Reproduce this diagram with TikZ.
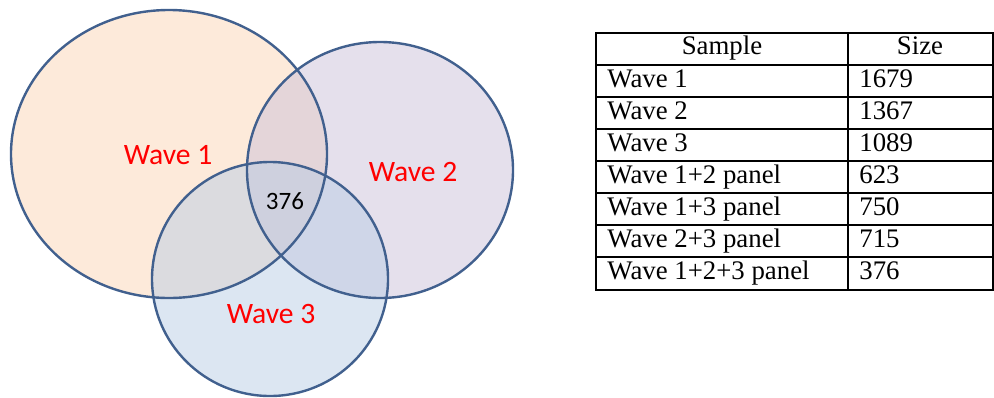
\documentclass[tikz,border=0pt]{standalone}
\usepackage{fontspec}
\setmainfont{Liberation Serif}
\newfontfamily\calfont{Carlito}
\usepackage{xcolor}
\usepackage{tikz}
\definecolor{VennLine}{HTML}{41608E}
\definecolor{WaveOne}{HTML}{FBD5B5}
\definecolor{WaveTwo}{HTML}{CCC1DA}
\definecolor{WaveThree}{HTML}{B9CDE5}

\tikzset{
  wavelab/.style={text=red,font=\calfont\fontsize{14.8}{16}\selectfont,inner sep=0pt},
  cell/.style={anchor=base west,font=\fontsize{13.4}{15}\selectfont,inner sep=0pt},
  headcell/.style={anchor=base,font=\fontsize{13.4}{15}\selectfont,inner sep=0pt},
}

\begin{document}
\begin{tikzpicture}[x=0.5pt,y=-0.5pt]
\useasboundingbox (0,0) rectangle (994,397);
% venn fills
\fill[WaveOne,fill opacity=0.5] (169,154) ellipse [x radius=158,y radius=144];
\fill[WaveTwo,fill opacity=0.5] (380,170) ellipse [x radius=133,y radius=128];
\fill[WaveThree,fill opacity=0.5] (270,279) ellipse [x radius=118,y radius=117];
% venn outlines
\draw[VennLine,line width=1.2pt] (169,154) ellipse [x radius=158,y radius=144];
\draw[VennLine,line width=1.2pt] (380,170) ellipse [x radius=133,y radius=128];
\draw[VennLine,line width=1.2pt] (270,279) ellipse [x radius=118,y radius=117];
\node[wavelab] (w1) at (168,155) {Wave 1};
\node[wavelab] (w2) at (413,172) {Wave 2};
\node[wavelab] (w3) at (271,314) {Wave 3};
\node[font=\calfont\fontsize{12.5}{14}\selectfont,inner sep=0pt] (all) at (285,201) {376};

% table
\draw[line width=0.7pt] (596,33) rectangle (993,290);
\draw[line width=0.7pt] (848,33) -- (848,290);
\foreach \y in {65,97,129,161,193,225,257} {
  \draw[line width=0.7pt] (596,\y) -- (993,\y);
}
\node[headcell] (hs) at (722,54) {Sample};
\node[headcell] (hn) at (920,54) {Size};
\foreach \i/\y/\lab/\num in {1/87/Wave 1/1679,2/119/Wave 2/1367,3/151/Wave 3/1089,4/183/Wave 1+2 panel/623,5/215/Wave 1+3 panel/750,6/247/Wave 2+3 panel/715,7/279/Wave 1+2+3 panel/376} {
  \node[cell] (s\i) at (607,\y) {\lab};
  \node[cell] (n\i) at (859,\y) {\num};
}
\end{tikzpicture}
\end{document}
